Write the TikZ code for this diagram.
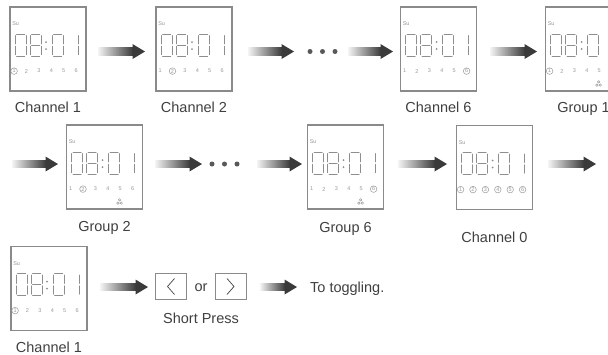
\documentclass[tikz,border=0pt]{standalone}
\usepackage{fontspec}
\setmainfont{Liberation Sans}
\usetikzlibrary{calc}
\definecolor{framegray}{HTML}{8A8A8A}
\definecolor{seggray}{HTML}{8E8E8E}
\definecolor{numgray}{HTML}{9A9A9A}
\definecolor{textgray}{HTML}{404040}
\definecolor{arrowdark}{HTML}{3A3A3A}
\definecolor{arrowlight}{HTML}{F4F4F4}
\tikzset{
  lcd/.style={draw=framegray, line width=1.8pt, minimum width=76pt, minimum height=84pt, inner sep=0pt},
  lcdseg/.style={draw=seggray, line width=0.9pt, line cap=round},
  lcdnum/.style={text=numgray, font=\fontsize{5.5}{5.5}\selectfont, inner sep=0pt},
  lcdring/.style={draw=numgray, line width=0.5pt},
  caption/.style={text=textgray, font=\fontsize{14.5}{16}\selectfont, anchor=base, inner sep=0pt},
  keybox/.style={draw=framegray, line width=0.8pt, minimum width=31pt, minimum height=26pt, inner sep=0pt},
  keychev/.style={draw=textgray, line width=0.7pt},
}
% seven segment digits, (#1,#2) = top left corner
\newcommand\lcdzero[2]{\draw[lcdseg] (#1+1.5,#2)--(#1+9.5,#2) (#1+11,#2+1.5)--(#1+11,#2+9.8)
  (#1+11,#2+12.2)--(#1+11,#2+20.5) (#1+1.5,#2+22)--(#1+9.5,#2+22)
  (#1,#2+12.2)--(#1,#2+20.5) (#1,#2+1.5)--(#1,#2+9.8);}
\newcommand\lcdeight[2]{\lcdzero{#1}{#2}\draw[lcdseg] (#1+1.5,#2+11)--(#1+9.5,#2+11);}
\newcommand\lcdone[2]{\draw[lcdseg] (#1+11,#2+1.5)--(#1+11,#2+9.8) (#1+11,#2+12.2)--(#1+11,#2+20.5);}
% display face inside node #1, ringed channel numbers #2
\newcommand\lcdface[2]{%
  \begin{scope}[shift={(#1.north west)}]
    \node[lcdnum, anchor=west] at (3,18) {Su};
    \lcdzero{6}{28} \lcdeight{21}{28} \lcdzero{43}{28} \lcdone{58}{28}
    \fill[seggray] (37,36) circle (1pt) (37,43) circle (1pt);
    \foreach \n in {1,...,6} \node[lcdnum] at ({5+(\n-1)*12.4},65) {\n};
    \foreach \n in {#2} \draw[lcdring] ({5+(\n-1)*12.4},65) circle (3.3pt);
  \end{scope}}
\newcommand\lcdgroup[1]{%
  \begin{scope}[shift={(#1.north west)}]
    \draw[lcdring] (52.3,79) circle (1.2pt) (55.7,79) circle (1.2pt) (54,75.8) circle (1.2pt);
  \end{scope}}
% shaded arrow from coordinate #1 to coordinate #2
\newcommand\flowarrow[2]{%
  \shade[left color=arrowlight, right color=arrowdark] ($(#1)+(0,-3.7)$) rectangle ($(#2)+(-12,3.7)$);
  \fill[arrowdark] ($(#2)+(-12.5,-7.5)$) -- (#2) -- ($(#2)+(-12.5,7.5)$) -- cycle;}
\begin{document}
\begin{tikzpicture}[x=1pt,y=-1pt]
\useasboundingbox (0,0) rectangle (608,354);
\clip (0,0) rectangle (608,354);
\fill[white] (0,0) rectangle (608,354);
% first row
\node[lcd] (ch1) at (48,49) {};
\node[lcd] (ch2) at (194,49) {};
\node[lcd] (ch6) at (438.5,49) {};
\node[lcd] (gr1) at (583.5,49) {};
\lcdface{ch1}{1}
\lcdface{ch2}{2}
\lcdface{ch6}{6}
\lcdface{gr1}{1} \lcdgroup{gr1}
\node[caption] (lch1) at (48,112) {Channel 1};
\node[caption] (lch2) at (194,112) {Channel 2};
\node[caption] (lch6) at (438.5,112) {Channel 6};
\node[caption] (lgr1) at (583.5,112) {Group 1};
\coordinate (a1s) at (98,51.5); \coordinate (a1e) at (145,51.5);
\coordinate (a2s) at (248,51.5); \coordinate (a2e) at (294,51.5);
\coordinate (a3s) at (348,51.5); \coordinate (a3e) at (393,51.5);
\coordinate (a4s) at (490,51.5); \coordinate (a4e) at (537,51.5);
\flowarrow{a1s}{a1e}
\flowarrow{a2s}{a2e}
\flowarrow{a3s}{a3e}
\flowarrow{a4s}{a4e}
\foreach \x in {310,322.5,335} \fill[black!65] (\x,51.5) circle (2.5pt);
% second row
\node[lcd] (gr2) at (104.5,167) {};
\node[lcd] (gr6) at (345.5,167) {};
\node[lcd] (ch0) at (494.5,167.5) {};
\lcdface{gr2}{2} \lcdgroup{gr2}
\lcdface{gr6}{6} \lcdgroup{gr6}
\lcdface{ch0}{1,...,6}
\node[caption] (lgr2) at (104.5,231) {Group 2};
\node[caption] (lgr6) at (345.5,232) {Group 6};
\node[caption] (lch0) at (494.5,242) {Channel 0};
\coordinate (b0s) at (12,164); \coordinate (b0e) at (58,164);
\coordinate (b1s) at (155,164); \coordinate (b1e) at (202,164);
\coordinate (b2s) at (257,164); \coordinate (b2e) at (302,164);
\coordinate (b3s) at (398,164); \coordinate (b3e) at (447,164);
\coordinate (b4s) at (548,164); \coordinate (b4e) at (596,164);
\flowarrow{b0s}{b0e}
\flowarrow{b1s}{b1e}
\flowarrow{b2s}{b2e}
\flowarrow{b3s}{b3e}
\flowarrow{b4s}{b4e}
\foreach \x in {212,224.5,237} \fill[black!65] (\x,164) circle (2.5pt);
% third row
\node[lcd] (ch1b) at (49,288.5) {};
\lcdface{ch1b}{1}
\node[caption] (lch1b) at (49,352) {Channel 1};
\node[keybox] (kleft) at (171,286.5) {};
\node[keybox] (kright) at (230.5,286.5) {};
\draw[keychev] ($(kleft)+(3.5,-8)$) -- ($(kleft)+(-3.5,0)$) -- ($(kleft)+(3.5,8)$);
\draw[keychev] ($(kright)+(-3.5,-8)$) -- ($(kright)+(3.5,0)$) -- ($(kright)+(-3.5,8)$);
\node[caption] (lor) at (201,291) {or};
\node[caption] (lpress) at (201,323) {Short Press};
\coordinate (c1s) at (100,287); \coordinate (c1e) at (148,287);
\coordinate (c2s) at (260,287); \coordinate (c2e) at (297,287);
\flowarrow{c1s}{c1e}
\flowarrow{c2s}{c2e}
\node[caption, anchor=base west] (ltoggle) at (310,292) {To toggling.};
\end{tikzpicture}
\end{document}
